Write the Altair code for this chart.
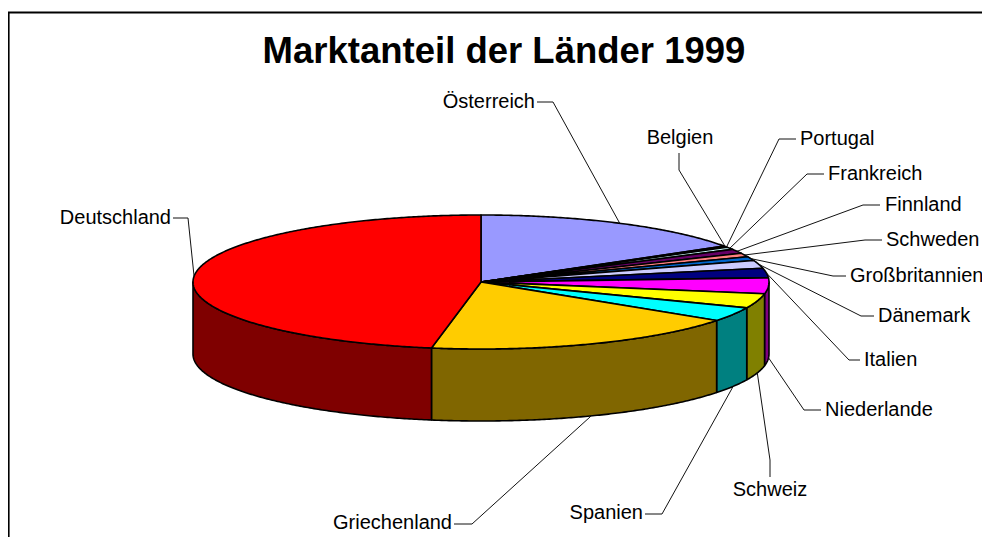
import math
import altair as alt
import pandas as pd

# --- values ---
countries = ["Österreich", "Belgien", "Portugal", "Frankreich", "Finnland", "Schweden",
             "Großbritannien", "Dänemark", "Italien", "Niederlande", "Schweiz", "Spanien",
             "Griechenland", "Deutschland"]
shares = [16.0, 0.2, 0.1, 0.6, 1.05, 0.9, 0.95, 1.9, 2.3, 3.8, 3.5, 3.45, 18.0, 47.25]
fills = ["#9999FF", "#993366", "#FFFFCC", "#CCFFFF", "#660066", "#FF8080", "#0066CC",
         "#CCCCFF", "#000080", "#FF00FF", "#FFFF00", "#00FFFF", "#FFCC00", "#FF0000"]
sides = ["#4C4C80", "#4C1933", "#808066", "#668080", "#330033", "#804040", "#003366",
         "#666680", "#000040", "#800080", "#808000", "#008080", "#806600", "#7F0000"]

# --- layout (reference pixels) ---
CX, CY, RX, RY, DEPTH = 481.0, 282.0, 288.0, 67.0, 72.0
W, H, M = 982, 537, 8
label_x = [535, 680, 800, 828, 885, 886, 850, 878, 864, 825, 770, 643, 452, 171]
label_y = [102, 138, 139, 174, 205, 240, 276, 316, 360, 410, 490, 513, 523, 218]
label_align = ["right", "center", "left", "left", "left", "left", "left", "left", "left",
               "left", "center", "right", "right", "right"]
start_x = [537, 679, 796, 824, 880, 882, 846, 874, 860, 821, 770, 645, 454, 173]
start_y = [102, 153, 139, 174, 205, 240, 276, 316, 360, 410, 477, 514, 524, 218]
elbow_x = [553, 679, 779, 807, 863, 865, 833, 861, 849, 804, 770, 662, 472, 188]
elbow_y = [102, 170, 139, 174, 205, 240, 276, 316, 360, 410, 460, 514, 524, 218]

total = sum(shares)


def rim(t, drop=0.0):
    a = math.radians(t)
    return [CX + RX * math.sin(a), CY - RY * math.cos(a) + drop]


def span(t0, t1, drop=0.0):
    n = max(2, int(abs(t1 - t0) * 2) + 1)
    return [rim(t0 + (t1 - t0) * i / (n - 1), drop) for i in range(n)]


def feature(ring, fill):
    return {"type": "Feature", "properties": {"fill": fill},
            "geometry": {"type": "Polygon", "coordinates": [ring + [ring[0]]]}}


side_features, top_features, leader_rows = [], [], []
t = 0.0
for i, (name, s) in enumerate(zip(countries, shares)):
    t1 = t + 360.0 * s / total
    a0, a1 = max(t, 90.0), min(t1, 270.0)
    if a1 > a0:
        side_features.append(feature(span(a0, a1) + span(a1, a0, DEPTH), sides[i]))
    top_features.append(feature([[CX, CY]] + span(t, t1), fills[i]))
    mid = (t + t1) / 2
    ax, ay = rim(mid, DEPTH if 90 < mid < 270 else 0.0)
    for order, (x, y) in enumerate([(start_x[i], start_y[i]), (elbow_x[i], elbow_y[i]), (ax, ay)]):
        leader_rows.append({"name": name, "order": order, "x": x, "y": y})
    t = t1

x_scale = alt.Scale(domain=[M, W], range=[0, W - M])
y_scale = alt.Scale(domain=[M, H], range=[0, H - M])
X = lambda f="x": alt.X(f"{f}:Q", scale=x_scale, axis=None)
Y = lambda f="y": alt.Y(f"{f}:Q", scale=y_scale, axis=None)
proj = dict(type="identity", scale=1, translate=[-M, -M])


def shapes(features, sw):
    return (alt.Chart(alt.Data(values=features))
            .mark_geoshape(stroke="#000000", strokeWidth=sw, strokeJoin="round")
            .encode(fill=alt.Fill("properties.fill:N", scale=None, legend=None))
            .project(**proj))


sides_layer = shapes(side_features, 1.6)
tops_layer = shapes(top_features, 1.6)

leaders = (alt.Chart(pd.DataFrame(leader_rows))
           .mark_line(color="#111111", strokeWidth=1, interpolate="linear")
           .encode(x=X(), y=Y(), detail="name:N", order="order:Q"))

label_df = pd.DataFrame({"name": countries, "x": label_x, "y": label_y, "a": label_align})
label_layers = [
    alt.Chart(label_df[label_df.a == a])
    .mark_text(font="Liberation Sans", fontSize=20, color="#000000", align=a, baseline="middle")
    .encode(x=X(), y=Y(), text="name:N")
    for a in ["left", "center", "right"]
]

title = (alt.Chart(pd.DataFrame({"t": ["Marktanteil der Länder 1999"], "x": [504], "y": [51.5]}))
         .mark_text(font="Liberation Sans", fontSize=36.5, fontWeight="bold", color="#000000",
                    align="center", baseline="middle")
         .encode(x=X(), y=Y(), text="t:N"))

frame_df = pd.DataFrame({"order": [0, 1, 2], "x": [W, 8.6, 8.6], "y": [12.5, 12.5, H]})
frame = (alt.Chart(frame_df)
         .mark_line(color="#000000", strokeWidth=2)
         .encode(x=X(), y=Y(), order="order:Q"))

chart = (alt.layer(frame, sides_layer, tops_layer, leaders, title, *label_layers)
         .resolve_scale(x="shared", y="shared")
         .properties(width=W - M, height=H - M, padding=0, background="#FFFFFF",
                     autosize=alt.AutoSizeParams(type="none"))
         .configure_view(stroke=None))

chart.save("out.html", embed_options={"renderer": "svg", "actions": False})
